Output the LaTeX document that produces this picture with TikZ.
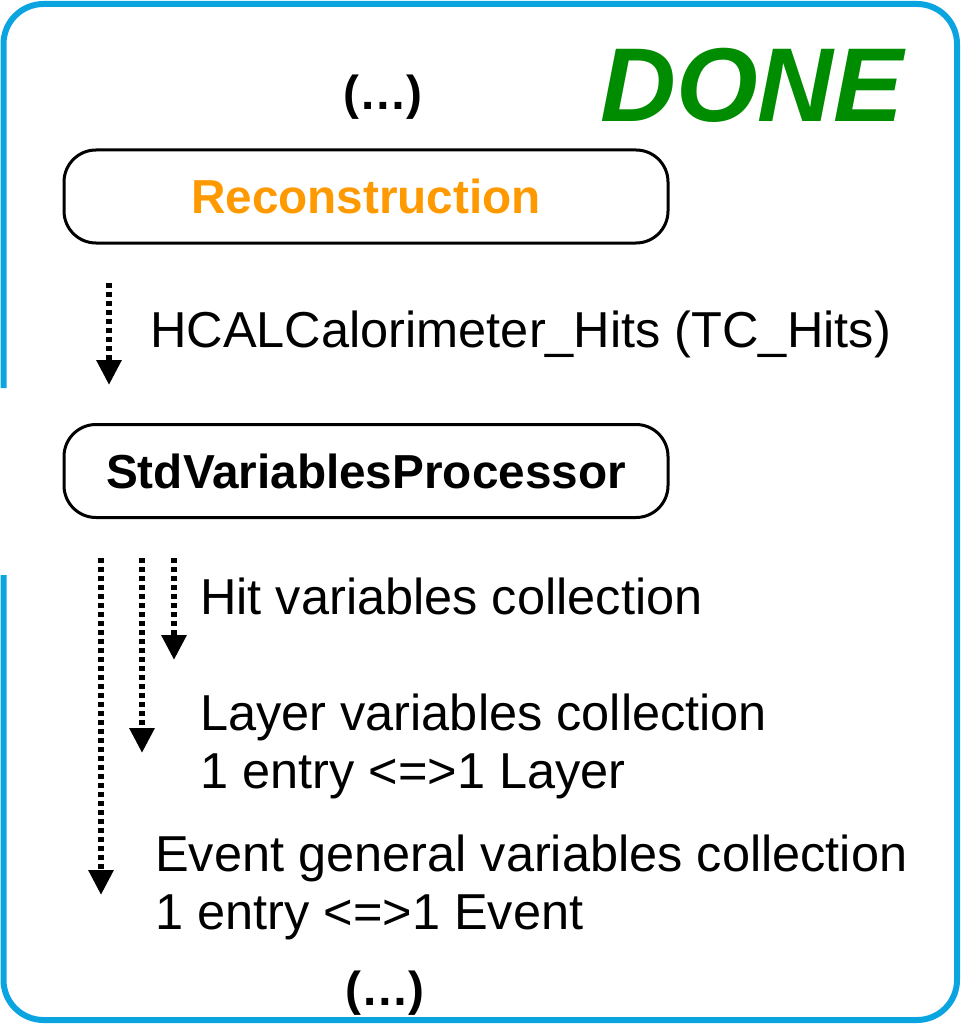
\documentclass[tikz,border=0pt]{standalone}
\usepackage{fontspec}
\setmainfont{Liberation Sans}
\usepackage{tikz}
\usetikzlibrary{arrows.meta}
\definecolor{frameblue}{RGB}{10,165,225}
\definecolor{doneGreen}{RGB}{0,140,0}
\definecolor{recoOrange}{RGB}{255,153,0}

\begin{document}
\begin{tikzpicture}[
  x=1pt,y=-1pt,
  txt/.style={font=\fontsize{50.5}{58}\selectfont,inner sep=0pt,align=left},
  boldtxt/.style={font=\fontsize{47.7}{56}\selectfont\bfseries,inner sep=0pt},
  procbox/.style={draw=black,line width=3pt,rounded corners=32pt,
    minimum width=604pt,minimum height=93pt,inner sep=0pt,
    font=\fontsize{47.7}{56}\selectfont\bfseries},
  flow/.style={line width=6pt,dash pattern=on 5pt off 4pt,
    -{Triangle[width=24pt,length=25pt]}},
  frame/.style={draw=frameblue,line width=6pt,rounded corners=40pt}
]
  \useasboundingbox (0,0) rectangle (962,1024);

  % outer frame, open on the left side
  \draw[frame] (3.5,575) -- (3.5,1020) -- (957,1020) -- (957,4) -- (3.5,4) -- (3.5,388);

  \node[font=\fontsize{105}{110}\selectfont\bfseries\itshape,text=doneGreen,
    inner sep=0pt,anchor=base west] (done) at (600,122) {DONE};
  \node[boldtxt,anchor=base] (dotsTop) at (383,110) {(…)};

  \node[procbox,text=recoOrange] (reco) at (366,196.5) {Reconstruction};
  \node[procbox] (stdproc) at (366,471) {StdVariablesProcessor};

  \coordinate (hcalStart) at (109,283);
  \coordinate (hcalEnd) at (109,385);
  \draw[flow] (hcalStart) -- (hcalEnd);
  \node[txt,anchor=base west] (hcalLbl) at (150,347) {HCALCalorimeter\_Hits (TC\_Hits)};

  \coordinate (evStart) at (101,558);
  \coordinate (evEnd) at (101,895);
  \coordinate (layStart) at (142,558);
  \coordinate (layEnd) at (142,753);
  \coordinate (hitStart) at (174,558);
  \coordinate (hitEnd) at (174,660);
  \draw[flow] (evStart) -- (evEnd);
  \draw[flow] (layStart) -- (layEnd);
  \draw[flow] (hitStart) -- (hitEnd);

  \node[txt,anchor=base west] (hitLbl) at (200,614) {Hit variables collection};
  \node[txt,anchor=base west] (layLbl) at (200,730) {Layer variables collection};
  \node[txt,anchor=base west] (layLblB) at (200,788) {1 entry <=>1 Layer};
  \node[txt,anchor=base west] (evLbl) at (155,871) {Event general variables collection};
  \node[txt,anchor=base west] (evLblB) at (155,929) {1 entry <=>1 Event};

  \node[boldtxt,anchor=base] (dotsBot) at (385,1005) {(…)};
\end{tikzpicture}
\end{document}
